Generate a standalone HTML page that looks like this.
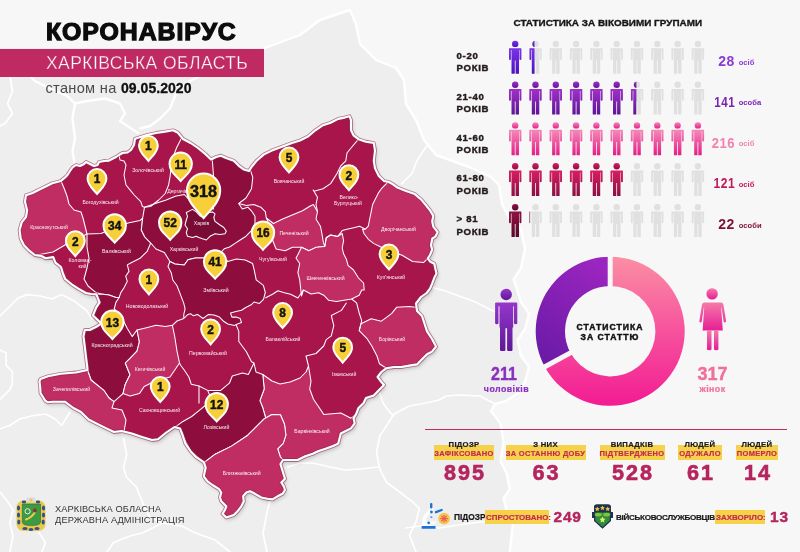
<!DOCTYPE html>
<html><head><meta charset="utf-8"><style>
*{margin:0;padding:0;box-sizing:border-box}
html,body{width:800px;height:552px;overflow:hidden;background:#eeeeee}
body{position:relative;font-family:"Liberation Sans",Arial,sans-serif}
.abs{position:absolute}
.pn{font-family:"Liberation Sans",Arial,sans-serif;font-weight:700;fill:#141414;stroke:#141414;stroke-width:0.45px}
.dl{font-family:"Liberation Sans",Arial,sans-serif;font-size:5.2px;fill:#fff;text-anchor:middle;opacity:.92}
#title{position:absolute;left:45.5px;top:17px;font-size:24px;font-weight:700;color:#0c0c0c;letter-spacing:0.9px;-webkit-text-stroke:1.25px #0c0c0c;line-height:30px;white-space:nowrap;transform:scaleX(1.035);transform-origin:0 0}
#band{position:absolute;left:0;top:49px;width:264px;height:27.5px;background:#c02a63}
#band span{position:absolute;left:46px;top:4px;font-size:17.5px;color:#fff;letter-spacing:0.45px;-webkit-text-stroke:0.35px #c02a63;white-space:nowrap;line-height:20px}
#date{position:absolute;left:45.5px;top:80px;font-size:14.6px;color:#4a4a4a;letter-spacing:0.3px;white-space:nowrap;line-height:16px}
#date b{color:#111;letter-spacing:0.05px;font-size:14px;-webkit-text-stroke:0.3px #111}
#agehdr{position:absolute;left:513.5px;top:17.3px;font-size:9.9px;font-weight:700;color:#161616;white-space:nowrap;line-height:12px;letter-spacing:0.03px;-webkit-text-stroke:0.35px #161616}
.agel{position:absolute;left:456.5px;font-size:9.6px;font-weight:700;color:#231a1a;line-height:12.3px;letter-spacing:0.7px;white-space:nowrap;-webkit-text-stroke:0.4px #231a1a}
.agen{position:absolute;right:65px;font-size:14px;font-weight:700;line-height:16px;white-space:nowrap;letter-spacing:0.6px}
.ageu{position:absolute;left:738.8px;font-size:7.6px;font-weight:700;line-height:16px;white-space:nowrap;padding-top:1.5px}

.ctr{position:absolute;text-align:center;white-space:nowrap}
#dtxt{left:560px;top:321.5px;width:100px;font-size:8.6px;font-weight:700;color:#111;line-height:10.5px;letter-spacing:1.0px;-webkit-text-stroke:0.45px #111}
.gnum{font-size:18px;font-weight:700;line-height:18px;-webkit-text-stroke:0.4px currentColor}
.glab{font-size:8.8px;font-weight:700;line-height:10px;letter-spacing:0.45px;-webkit-text-stroke:0.2px currentColor}
#hline{position:absolute;left:425px;top:428.5px;width:362px;height:1.5px;background:#bf2c63}
.sh{font-size:7.7px;font-weight:700;color:#1a1a1a;line-height:8px;letter-spacing:0.3px;-webkit-text-stroke:0.2px #1a1a1a}
.sb{position:absolute;background:#f6d24a;height:14.2px;top:445.4px}
.sbt{font-size:7.5px;font-weight:700;color:#c42a56;line-height:8px;letter-spacing:0.35px;-webkit-text-stroke:0.2px #c42a56}
.sn{font-size:21.6px;font-weight:700;color:#b5245e;line-height:20px;letter-spacing:2px;-webkit-text-stroke:0.6px #b5245e}
.bt{position:absolute;font-size:8.4px;font-weight:700;color:#161616;line-height:9px;white-space:nowrap;-webkit-text-stroke:0.2px #161616}
.by{position:absolute;background:#f6d24a;top:509.5px;height:14.5px}
.byt{position:absolute;font-size:7.9px;font-weight:700;color:#c42a56;line-height:9px;white-space:nowrap;letter-spacing:0.05px;-webkit-text-stroke:0.2px #c42a56}
.bn{position:absolute;font-size:15.5px;font-weight:700;color:#b5245e;line-height:15px;white-space:nowrap;letter-spacing:0.8px;-webkit-text-stroke:0.4px #b5245e}
#org{position:absolute;left:55px;top:503.8px;font-size:9.25px;color:#333;line-height:10.9px;white-space:nowrap;letter-spacing:0.12px}
</style></head><body>

<svg class="abs" style="left:0;top:0" width="800" height="552" viewBox="0 0 800 552">
<polygon points="0,0 800,0 800,552 509.8,552 513,523.3 506.7,510.8 503.6,498.4 509.8,489 506.7,473.5 500.5,461 503.6,442.3 500.5,423.6 491,411 495,404 506,401 517.5,393.5 525,382 529,367 521,355.5 517.5,340 525,329 529,313.6 521,302 517.5,290.8 513.6,279.4 521,268 525,249 521,230 510,220 502,204 499,185 491,177 474,169 461,164 436,155 424,140 416,120 406,104 404,80 396,68 376,60 360,44 356,24 350,10 320,20 300,35 265,48 0,48" fill="#f7f7f7"/>
<g fill="none" stroke="#fff" stroke-width="2.4" stroke-linejoin="round" stroke-linecap="round">
<polyline points="265,48 300,35 320,20 350,10 356,24 360,44 376,60 396,68 404,80 406,104 416,120 424,140 436,155 461,164 474,169 491,177 499,185 502,204 510,220 521,230 525,249 521,268 513.6,279.4 517.5,290.8 521,302 529,313.6 525,329 517.5,340 521,355.5 529,367 525,382 517.5,393.5 506,401 495,404 491,411 500.5,423.6 503.6,442.3 500.5,461 506.7,473.5 509.8,489 503.6,498.4 506.7,510.8 513,523.3 509.8,552"/>
<polyline points="30,76 35,81 50,88.5 67.5,96 75,103.5 72.5,118.5 75,138.5 72.5,151 75,166 70,176"/>
<polyline points="75,103.5 87.5,101 105,98.5 120,103.5 125,113.5 120,121 127.5,126 138,133"/>
<polyline points="140,128.5 150,126 160,118.5 170,108.5 175,96 180,88.5 190,81 200,76"/>
</g>
<g fill="none" stroke="#fff" stroke-width="1.7" stroke-linejoin="round" stroke-linecap="round">
<polyline points="10,76 12.5,91 7.5,103.5 12.5,113.5 5,123.5 0,126"/>
<polyline points="0,316 9.2,307 18.5,297.7 27.7,294.6 40,296 52.3,299 61.5,294.6 73.8,300.8 86,310 92.3,319"/>
<polyline points="0,350 6.2,353 6.2,365.4 12.3,371.5 12.3,383.8 9.8,389.7 0,399.5"/>
<polyline points="0,428.8 9.8,425.5 19.5,419 32.5,415.7 45.5,414 55.2,419 61.7,425.5 70,412"/>
<polyline points="123.5,438.5 126.7,454.7 123.5,467.7 126.7,477.5 136.5,487.2 143,503.5 149.5,516.5 162.5,523 182,526.2 195,532.7 215,540 230,552"/>
<polyline points="107,552 113.7,542.5 130,536 143,532.7 162.5,523"/>
<polyline points="0,492 6.5,500 13,510 9.8,523 13,536 9.8,552"/>
<polyline points="39,532.7 45.5,542.5 42,552"/>
<polyline points="271.3,496 267,512.5 263,533 267,552"/>
<polyline points="287.8,467 300,463 312.5,463 330,467 345,470 360,469 378.5,467"/>
<polyline points="379.8,393 383,403 389.7,412 393,415.5 396,413 409.5,406 426,403 439,400 446,396 459,395 480,396 495,404"/>
<polyline points="393,415.5 386.4,426 379.8,436 376.5,452.5 379.8,469 386.4,482.2 399.6,492 412.8,502 419.4,508.6 416,521.8 409.5,535 416,552"/>
<polyline points="406,528 426,525 439,528 459,525 480,522 503,520"/>
<polyline points="430,287 445,290.8 460.4,296.5 475.6,302 490.8,310 517.5,320"/>
<polyline points="427,145.5 422,153 417,160.8 412,173.5 401.7,183.6"/>
</g>
</svg>
<svg class="abs" style="left:0;top:0" width="800" height="552" viewBox="0 0 800 552">
<defs><clipPath id="ob"><polygon points="25.0,201.7 26.0,195.2 32.6,193.0 39.0,189.8 45.7,186.5 52.2,183.3 60.9,181.0 65.0,177.5 67.5,175.0 70.0,171.0 72.5,167.5 76.0,165.0 80.0,166.0 84.0,164.0 86.0,162.0 90.0,164.0 94.0,166.0 97.5,165.0 99.0,162.0 104.0,161.0 109.0,160.6 112.5,158.8 116.0,157.0 119.0,155.0 122.5,153.0 127.5,152.5 131.0,150.0 134.0,145.0 135.0,138.8 139.0,137.5 147.0,135.0 156.0,133.0 165.0,131.6 173.0,130.3 178.0,132.8 183.0,139.0 190.6,143.0 198.0,148.0 205.8,154.4 211.0,159.5 216.0,157.0 221.0,155.7 226.0,158.0 233.8,160.8 238.8,165.8 244.0,169.6 249.0,171.0 251.5,167.0 256.6,160.8 264.0,154.4 271.8,150.6 282.0,146.8 292.0,143.0 300.0,140.5 307.8,136.6 315.4,130.3 323.0,125.2 330.6,122.7 338.2,118.9 344.6,117.6 349.6,116.3 351.0,120.2 351.0,130.3 353.5,135.4 358.5,139.2 366.0,141.7 373.8,143.0 375.0,150.6 373.8,160.8 375.0,168.4 378.8,176.0 384.0,181.0 388.7,182.0 393.0,184.3 397.4,187.6 406.0,190.9 414.8,194.1 421.3,199.6 425.7,205.0 430.0,210.4 433.3,215.9 432.2,221.3 433.3,226.7 437.6,232.2 435.4,236.5 432.2,238.7 431.0,245.2 432.2,249.6 430.0,255.0 427.8,258.3 430.0,261.5 434.3,263.7 435.4,269.0 436.5,273.5 434.3,277.8 432.2,283.3 430.0,288.7 426.7,293.0 421.0,297.0 416.0,303.5 417.0,311.0 422.0,316.0 424.5,323.8 427.0,331.4 432.0,339.0 436.0,346.6 432.0,351.7 427.0,354.2 422.0,359.3 417.0,364.4 409.3,365.6 401.7,367.0 394.0,367.0 386.4,368.2 381.4,372.0 377.6,377.0 381.4,382.0 384.0,385.0 378.8,390.3 373.8,395.4 366.0,398.0 363.6,403.0 358.5,408.0 356.0,414.4 353.5,418.2 354.7,423.3 351.0,428.4 345.8,431.0 340.8,433.5 339.5,438.5 338.2,443.6 333.0,446.0 325.5,448.7 318.0,451.2 312.8,453.8 305.2,456.3 297.6,460.0 291.0,460.0 283.0,460.0 280.4,464.0 283.8,475.0 285.0,478.8 281.3,482.5 283.8,486.3 285.0,490.0 282.5,493.8 277.5,496.3 272.5,499.4 267.5,498.8 261.3,497.5 255.0,493.8 250.0,491.3 246.3,492.5 243.1,496.3 243.8,501.3 241.3,506.3 237.5,511.3 233.8,515.0 230.0,516.3 226.3,517.5 222.5,513.8 225.0,510.0 226.3,506.3 221.3,501.3 220.0,497.5 221.3,492.5 218.8,488.8 212.5,485.0 207.5,481.3 203.8,476.3 205.7,467.8 204.0,462.4 196.0,457.0 190.8,451.5 185.3,443.4 182.6,435.0 180.0,428.4 174.5,427.0 166.3,432.5 158.0,439.3 152.0,440.0 142.0,437.0 131.8,433.5 121.6,431.0 114.0,432.0 109.0,429.6 98.8,424.6 88.6,419.5 81.0,412.0 73.4,408.0 64.8,401.7 52.8,401.7 47.9,402.3 45.2,400.6 42.5,396.3 40.5,393.0 40.3,388.0 39.5,381.4 40.4,379.0 48.0,376.3 60.7,373.8 76.0,372.5 87.5,370.0 87.3,367.0 86.0,356.8 84.8,346.6 83.5,336.4 84.8,330.0 89.8,330.0 96.3,326.8 101.2,323.6 98.0,320.3 93.0,315.4 96.3,307.3 99.6,302.4 96.3,294.2 91.3,294.0 85.9,293.0 78.3,288.7 71.7,284.3 65.2,279.0 63.0,273.5 61.0,267.0 55.4,262.6 53.3,257.0 45.7,258.3 41.3,256.0 34.8,255.0 29.3,250.7 24.0,245.2 20.7,238.7 19.6,230.0 21.7,222.4 26.0,217.0 27.2,210.4"/></clipPath>
<filter id="sh" x="-10%" y="-10%" width="120%" height="120%"><feGaussianBlur stdDeviation="2.2"/></filter></defs>
<polygon points="25.0,201.7 26.0,195.2 32.6,193.0 39.0,189.8 45.7,186.5 52.2,183.3 60.9,181.0 65.0,177.5 67.5,175.0 70.0,171.0 72.5,167.5 76.0,165.0 80.0,166.0 84.0,164.0 86.0,162.0 90.0,164.0 94.0,166.0 97.5,165.0 99.0,162.0 104.0,161.0 109.0,160.6 112.5,158.8 116.0,157.0 119.0,155.0 122.5,153.0 127.5,152.5 131.0,150.0 134.0,145.0 135.0,138.8 139.0,137.5 147.0,135.0 156.0,133.0 165.0,131.6 173.0,130.3 178.0,132.8 183.0,139.0 190.6,143.0 198.0,148.0 205.8,154.4 211.0,159.5 216.0,157.0 221.0,155.7 226.0,158.0 233.8,160.8 238.8,165.8 244.0,169.6 249.0,171.0 251.5,167.0 256.6,160.8 264.0,154.4 271.8,150.6 282.0,146.8 292.0,143.0 300.0,140.5 307.8,136.6 315.4,130.3 323.0,125.2 330.6,122.7 338.2,118.9 344.6,117.6 349.6,116.3 351.0,120.2 351.0,130.3 353.5,135.4 358.5,139.2 366.0,141.7 373.8,143.0 375.0,150.6 373.8,160.8 375.0,168.4 378.8,176.0 384.0,181.0 388.7,182.0 393.0,184.3 397.4,187.6 406.0,190.9 414.8,194.1 421.3,199.6 425.7,205.0 430.0,210.4 433.3,215.9 432.2,221.3 433.3,226.7 437.6,232.2 435.4,236.5 432.2,238.7 431.0,245.2 432.2,249.6 430.0,255.0 427.8,258.3 430.0,261.5 434.3,263.7 435.4,269.0 436.5,273.5 434.3,277.8 432.2,283.3 430.0,288.7 426.7,293.0 421.0,297.0 416.0,303.5 417.0,311.0 422.0,316.0 424.5,323.8 427.0,331.4 432.0,339.0 436.0,346.6 432.0,351.7 427.0,354.2 422.0,359.3 417.0,364.4 409.3,365.6 401.7,367.0 394.0,367.0 386.4,368.2 381.4,372.0 377.6,377.0 381.4,382.0 384.0,385.0 378.8,390.3 373.8,395.4 366.0,398.0 363.6,403.0 358.5,408.0 356.0,414.4 353.5,418.2 354.7,423.3 351.0,428.4 345.8,431.0 340.8,433.5 339.5,438.5 338.2,443.6 333.0,446.0 325.5,448.7 318.0,451.2 312.8,453.8 305.2,456.3 297.6,460.0 291.0,460.0 283.0,460.0 280.4,464.0 283.8,475.0 285.0,478.8 281.3,482.5 283.8,486.3 285.0,490.0 282.5,493.8 277.5,496.3 272.5,499.4 267.5,498.8 261.3,497.5 255.0,493.8 250.0,491.3 246.3,492.5 243.1,496.3 243.8,501.3 241.3,506.3 237.5,511.3 233.8,515.0 230.0,516.3 226.3,517.5 222.5,513.8 225.0,510.0 226.3,506.3 221.3,501.3 220.0,497.5 221.3,492.5 218.8,488.8 212.5,485.0 207.5,481.3 203.8,476.3 205.7,467.8 204.0,462.4 196.0,457.0 190.8,451.5 185.3,443.4 182.6,435.0 180.0,428.4 174.5,427.0 166.3,432.5 158.0,439.3 152.0,440.0 142.0,437.0 131.8,433.5 121.6,431.0 114.0,432.0 109.0,429.6 98.8,424.6 88.6,419.5 81.0,412.0 73.4,408.0 64.8,401.7 52.8,401.7 47.9,402.3 45.2,400.6 42.5,396.3 40.5,393.0 40.3,388.0 39.5,381.4 40.4,379.0 48.0,376.3 60.7,373.8 76.0,372.5 87.5,370.0 87.3,367.0 86.0,356.8 84.8,346.6 83.5,336.4 84.8,330.0 89.8,330.0 96.3,326.8 101.2,323.6 98.0,320.3 93.0,315.4 96.3,307.3 99.6,302.4 96.3,294.2 91.3,294.0 85.9,293.0 78.3,288.7 71.7,284.3 65.2,279.0 63.0,273.5 61.0,267.0 55.4,262.6 53.3,257.0 45.7,258.3 41.3,256.0 34.8,255.0 29.3,250.7 24.0,245.2 20.7,238.7 19.6,230.0 21.7,222.4 26.0,217.0 27.2,210.4" fill="#000" opacity="0.22" transform="translate(1.5,2.5)" filter="url(#sh)"/>
<polygon points="25.0,201.7 26.0,195.2 32.6,193.0 39.0,189.8 45.7,186.5 52.2,183.3 60.9,181.0 65.0,177.5 67.5,175.0 70.0,171.0 72.5,167.5 76.0,165.0 80.0,166.0 84.0,164.0 86.0,162.0 90.0,164.0 94.0,166.0 97.5,165.0 99.0,162.0 104.0,161.0 109.0,160.6 112.5,158.8 116.0,157.0 119.0,155.0 122.5,153.0 127.5,152.5 131.0,150.0 134.0,145.0 135.0,138.8 139.0,137.5 147.0,135.0 156.0,133.0 165.0,131.6 173.0,130.3 178.0,132.8 183.0,139.0 190.6,143.0 198.0,148.0 205.8,154.4 211.0,159.5 216.0,157.0 221.0,155.7 226.0,158.0 233.8,160.8 238.8,165.8 244.0,169.6 249.0,171.0 251.5,167.0 256.6,160.8 264.0,154.4 271.8,150.6 282.0,146.8 292.0,143.0 300.0,140.5 307.8,136.6 315.4,130.3 323.0,125.2 330.6,122.7 338.2,118.9 344.6,117.6 349.6,116.3 351.0,120.2 351.0,130.3 353.5,135.4 358.5,139.2 366.0,141.7 373.8,143.0 375.0,150.6 373.8,160.8 375.0,168.4 378.8,176.0 384.0,181.0 388.7,182.0 393.0,184.3 397.4,187.6 406.0,190.9 414.8,194.1 421.3,199.6 425.7,205.0 430.0,210.4 433.3,215.9 432.2,221.3 433.3,226.7 437.6,232.2 435.4,236.5 432.2,238.7 431.0,245.2 432.2,249.6 430.0,255.0 427.8,258.3 430.0,261.5 434.3,263.7 435.4,269.0 436.5,273.5 434.3,277.8 432.2,283.3 430.0,288.7 426.7,293.0 421.0,297.0 416.0,303.5 417.0,311.0 422.0,316.0 424.5,323.8 427.0,331.4 432.0,339.0 436.0,346.6 432.0,351.7 427.0,354.2 422.0,359.3 417.0,364.4 409.3,365.6 401.7,367.0 394.0,367.0 386.4,368.2 381.4,372.0 377.6,377.0 381.4,382.0 384.0,385.0 378.8,390.3 373.8,395.4 366.0,398.0 363.6,403.0 358.5,408.0 356.0,414.4 353.5,418.2 354.7,423.3 351.0,428.4 345.8,431.0 340.8,433.5 339.5,438.5 338.2,443.6 333.0,446.0 325.5,448.7 318.0,451.2 312.8,453.8 305.2,456.3 297.6,460.0 291.0,460.0 283.0,460.0 280.4,464.0 283.8,475.0 285.0,478.8 281.3,482.5 283.8,486.3 285.0,490.0 282.5,493.8 277.5,496.3 272.5,499.4 267.5,498.8 261.3,497.5 255.0,493.8 250.0,491.3 246.3,492.5 243.1,496.3 243.8,501.3 241.3,506.3 237.5,511.3 233.8,515.0 230.0,516.3 226.3,517.5 222.5,513.8 225.0,510.0 226.3,506.3 221.3,501.3 220.0,497.5 221.3,492.5 218.8,488.8 212.5,485.0 207.5,481.3 203.8,476.3 205.7,467.8 204.0,462.4 196.0,457.0 190.8,451.5 185.3,443.4 182.6,435.0 180.0,428.4 174.5,427.0 166.3,432.5 158.0,439.3 152.0,440.0 142.0,437.0 131.8,433.5 121.6,431.0 114.0,432.0 109.0,429.6 98.8,424.6 88.6,419.5 81.0,412.0 73.4,408.0 64.8,401.7 52.8,401.7 47.9,402.3 45.2,400.6 42.5,396.3 40.5,393.0 40.3,388.0 39.5,381.4 40.4,379.0 48.0,376.3 60.7,373.8 76.0,372.5 87.5,370.0 87.3,367.0 86.0,356.8 84.8,346.6 83.5,336.4 84.8,330.0 89.8,330.0 96.3,326.8 101.2,323.6 98.0,320.3 93.0,315.4 96.3,307.3 99.6,302.4 96.3,294.2 91.3,294.0 85.9,293.0 78.3,288.7 71.7,284.3 65.2,279.0 63.0,273.5 61.0,267.0 55.4,262.6 53.3,257.0 45.7,258.3 41.3,256.0 34.8,255.0 29.3,250.7 24.0,245.2 20.7,238.7 19.6,230.0 21.7,222.4 26.0,217.0 27.2,210.4" fill="#a8154a"/>
<g clip-path="url(#ob)" stroke="#fff" stroke-width="1.05" stroke-linejoin="round">
<polygon points="0.0,170.0 61.0,181.0 64.0,188.0 67.0,196.0 69.0,204.0 74.0,210.0 81.0,212.0 83.0,218.0 85.0,226.0 87.0,234.0 75.0,240.0 65.0,245.0 53.0,252.0 0.0,262.0" fill="#bf2d62"/>
<polygon points="87.0,234.0 101.0,233.6 114.0,228.0 128.0,223.0 140.0,220.6 142.7,218.0 141.3,230.0 144.8,237.0 150.7,243.0 147.2,251.3 140.0,258.3 130.7,263.0 127.3,264.9 129.0,271.4 125.7,276.3 127.3,281.2 124.0,287.7 120.8,292.6 119.1,297.5 116.0,297.5 109.0,295.0 101.0,294.0 96.0,292.6 88.0,286.0 84.0,279.0 87.0,268.0 89.0,258.0 87.0,247.0" fill="#8d0e3d"/>
<polygon points="96.3,294.2 101.0,294.0 109.0,295.0 116.0,297.5 119.1,297.5 115.9,302.4 114.2,309.0 117.5,312.2 122.4,318.7 127.3,328.5 132.2,336.6 137.0,330.0 139.4,341.8 137.0,351.2 130.0,358.3 125.3,363.0 130.0,374.8 125.3,384.2 123.0,393.6 114.0,401.7 109.0,398.0 103.8,390.3 91.0,380.0 87.5,370.0 60.0,360.0 60.0,300.0" fill="#8d0e3d"/>
<polygon points="30.0,362.0 87.5,370.0 91.0,380.0 103.8,390.3 109.0,398.0 114.0,401.7 112.0,408.0 122.0,410.0 126.0,420.0 124.0,432.0 124.0,450.0 30.0,450.0" fill="#bf2d62"/>
<polygon points="137.0,330.0 146.5,327.7 156.0,325.3 165.3,326.5 172.4,325.3 174.8,337.0 177.0,351.2 179.5,363.0 174.8,370.0 170.0,377.0 160.6,379.5 151.2,383.0 144.2,386.5 139.4,393.6 130.0,396.0 123.0,393.6 125.3,384.2 130.0,374.8 125.3,363.0 130.0,358.3 137.0,351.2 139.4,341.8" fill="#bf2d62"/>
<polygon points="142.7,218.0 144.5,207.2 155.4,203.5 166.2,200.0 175.3,196.3 184.3,194.5 192.0,203.0 213.5,209.0 212.2,193.8 213.5,176.0 212.2,158.2 216.0,150.0 221.0,150.0 226.0,152.0 233.8,155.0 238.8,160.0 244.0,165.0 249.0,166.0 252.8,177.3 251.5,188.7 246.0,198.0 238.7,203.5 242.3,209.0 247.8,207.2 251.4,210.8 255.0,216.2 255.0,223.5 251.4,230.7 246.0,236.2 240.5,239.8 235.0,243.4 229.6,247.0 224.2,248.8 220.6,252.5 215.0,257.0 202.5,257.9 195.2,257.9 188.0,259.7 184.3,265.0 175.0,264.0 169.9,261.5 164.4,252.5 156.0,249.0 150.7,243.0 144.8,237.0 141.3,230.0" fill="#8d0e3d"/>
<polygon points="169.9,261.5 175.0,264.0 184.3,265.0 188.0,259.7 195.2,257.9 202.5,257.9 215.0,257.0 220.6,252.5 224.0,258.0 227.8,261.5 236.3,259.0 245.3,260.0 252.6,263.5 254.4,270.8 256.2,279.8 263.4,285.3 265.3,292.5 263.5,299.3 259.4,303.4 253.9,302.0 251.2,304.8 245.7,307.5 241.5,310.3 236.0,311.6 230.5,313.0 231.9,317.1 236.0,317.1 240.2,318.5 241.5,322.6 237.4,324.0 234.6,325.4 227.8,324.0 223.6,321.3 219.5,317.1 214.0,315.0 208.5,314.4 203.0,318.5 197.5,314.4 193.4,315.8 190.6,313.7 187.9,314.4 183.8,318.5 183.8,314.4 185.1,308.9 183.8,303.4 179.6,292.4 176.9,285.5 172.8,280.0 171.3,273.0 168.0,266.5" fill="#8d0e3d"/>
<polygon points="186.3,212.5 190.0,210.6 192.5,209.4 196.3,211.9 200.0,216.0 203.0,217.0 208.8,212.5 212.5,211.9 215.0,213.8 213.8,217.5 215.0,221.3 220.0,225.0 223.8,227.5 226.3,231.3 225.0,233.8 220.0,234.4 215.0,233.8 210.0,236.3 206.3,240.0 202.5,238.8 198.8,237.5 196.3,236.3 192.5,237.5 187.5,236.3 186.3,232.5 187.5,228.8 185.0,225.0 186.3,220.0 187.5,216.3" fill="#780c35"/>
<polygon points="266.3,218.0 273.5,223.5 282.6,219.0 291.6,215.3 302.5,210.8 309.8,206.3 313.4,204.5 317.5,211.7 316.0,219.0 320.4,226.2 321.9,233.5 323.3,242.2 324.8,246.5 318.8,247.0 308.8,250.8 301.5,247.2 292.4,247.2 285.2,250.8 276.1,249.0 272.5,240.0 273.5,234.4" fill="#bf2d62"/>
<polygon points="297.6,255.2 301.5,247.2 308.8,250.8 316.0,247.2 324.8,246.5 326.2,237.8 330.6,235.0 337.8,236.4 342.2,233.5 343.6,240.7 342.2,248.0 343.6,253.8 346.5,259.6 348.0,265.4 353.5,270.0 358.5,278.0 363.6,283.0 364.2,290.0 361.7,290.0 359.2,295.2 351.6,299.0 344.0,300.3 336.3,301.6 328.7,300.3 323.7,295.2 318.6,292.7 311.0,294.0 303.4,290.0 301.5,296.0 299.7,279.8 297.9,272.6 299.7,263.5 296.0,258.0" fill="#bf2d62"/>
<polygon points="386.4,183.6 400.0,170.0 460.0,200.0 460.0,270.0 427.8,258.3 423.5,262.6 412.6,261.5 401.7,255.0 389.0,252.0 379.9,246.5 374.0,243.6 368.3,239.3 364.0,233.5 362.5,229.1 365.4,229.1 368.3,226.2 369.7,219.0 371.2,211.7 372.6,204.5 375.5,198.7 378.4,192.9 381.4,188.7" fill="#bf2d62"/>
<polygon points="361.0,323.8 371.2,318.7 381.4,321.2 391.5,313.6 396.6,307.3 409.3,306.5 415.6,307.3 440.0,300.0 450.0,360.0 427.0,354.2 417.0,364.4 386.4,368.2 379.4,363.7 377.0,356.0 371.8,346.0 366.8,338.3 359.2,330.7" fill="#bf2d62"/>
<polygon points="262.8,374.5 272.0,381.0 280.0,384.0 290.0,382.0 300.0,378.0 306.0,372.0 308.5,366.0 311.0,381.4 309.7,389.0 313.5,399.2 318.6,406.8 323.7,414.4 340.8,413.0 351.0,418.2 356.0,414.4 370.0,440.0 300.0,475.0 283.0,460.0 280.4,457.0 277.7,448.8 283.2,443.4 285.9,435.2 284.5,424.3 280.4,414.8 272.0,414.5 264.1,418.9 265.7,418.0 262.8,407.8 259.9,400.6 264.2,389.0" fill="#bf2d62"/>
<polygon points="175.8,426.7 181.6,422.3 191.7,416.5 199.0,410.7 207.7,403.5 210.0,396.0 207.7,390.4 220.7,390.4 229.4,383.2 232.3,376.0 242.5,373.0 248.3,374.5 251.2,368.7 254.0,363.0 256.0,372.0 262.8,374.5 264.2,389.0 259.9,400.6 262.8,407.8 265.7,418.0 264.1,418.9 247.8,435.2 231.5,446.1 215.2,454.2 204.3,462.4 190.8,451.5 182.6,435.2 170.0,440.0" fill="#8d0e3d"/>
<polygon points="204.3,462.4 215.2,454.2 231.5,446.1 247.8,435.2 264.1,418.9 272.0,414.5 280.4,414.8 284.5,424.3 285.9,435.2 283.2,443.4 277.7,448.8 280.4,457.0 283.0,460.0 300.0,470.0 300.0,530.0 200.0,530.0 195.0,470.0" fill="#bf2d62"/>
<polyline points="119.0,155.0 120.0,160.0 124.0,161.0 126.0,165.0 125.0,170.0 124.0,175.0 125.0,180.0 126.0,185.0 130.2,190.2 134.2,195.0 140.8,201.6 142.4,206.5 144.5,207.2" fill="none"/>
<polyline points="181.5,138.0 176.6,147.8 172.0,160.0 170.0,177.0 168.5,185.3 165.2,193.5 158.7,200.0 150.5,206.5 144.5,207.2" fill="none"/>
<polyline points="358.5,139.2 351.0,148.0 347.0,153.0 345.8,160.8 340.8,165.8 337.0,173.5 330.6,183.6 323.0,188.7 314.0,191.2 313.2,190.0 317.5,197.2 316.0,204.5 317.5,211.7" fill="none"/>
<polyline points="324.8,246.5 326.2,237.8 330.6,235.0 337.8,236.4 342.2,230.6 348.0,229.1 353.8,227.7 359.6,226.2 365.4,229.1" fill="none"/>
<polyline points="238.7,203.5 246.3,205.4 253.6,204.5 260.8,207.2 265.3,211.7 266.3,218.0" fill="none"/>
<polyline points="265.3,298.0 272.5,294.3 278.0,290.7 283.4,292.5 290.6,294.3 297.9,298.0 303.4,290.0" fill="none"/>
<polyline points="351.6,299.0 356.6,302.8 359.2,313.0 361.7,320.6 359.2,330.7" fill="none"/>
<polyline points="346.5,302.8 341.4,310.4 331.3,315.5 333.8,325.6 331.3,335.8 326.2,339.6 323.7,346.0 316.0,353.5 306.0,356.0 308.5,366.0" fill="none"/>
<polyline points="236.0,324.5 238.8,331.4 238.8,341.5 246.4,351.7 251.5,361.8 254.0,363.0" fill="none"/>
<polyline points="172.4,325.3 177.0,321.0 183.8,318.5" fill="none"/>
<polyline points="179.5,363.0 180.6,365.3 184.2,370.0 188.9,377.0 191.2,384.2 199.0,386.0 199.0,403.5" fill="none"/>
<polyline points="199.0,386.0 207.7,390.4" fill="none"/>
</g>
<polygon points="25.0,201.7 26.0,195.2 32.6,193.0 39.0,189.8 45.7,186.5 52.2,183.3 60.9,181.0 65.0,177.5 67.5,175.0 70.0,171.0 72.5,167.5 76.0,165.0 80.0,166.0 84.0,164.0 86.0,162.0 90.0,164.0 94.0,166.0 97.5,165.0 99.0,162.0 104.0,161.0 109.0,160.6 112.5,158.8 116.0,157.0 119.0,155.0 122.5,153.0 127.5,152.5 131.0,150.0 134.0,145.0 135.0,138.8 139.0,137.5 147.0,135.0 156.0,133.0 165.0,131.6 173.0,130.3 178.0,132.8 183.0,139.0 190.6,143.0 198.0,148.0 205.8,154.4 211.0,159.5 216.0,157.0 221.0,155.7 226.0,158.0 233.8,160.8 238.8,165.8 244.0,169.6 249.0,171.0 251.5,167.0 256.6,160.8 264.0,154.4 271.8,150.6 282.0,146.8 292.0,143.0 300.0,140.5 307.8,136.6 315.4,130.3 323.0,125.2 330.6,122.7 338.2,118.9 344.6,117.6 349.6,116.3 351.0,120.2 351.0,130.3 353.5,135.4 358.5,139.2 366.0,141.7 373.8,143.0 375.0,150.6 373.8,160.8 375.0,168.4 378.8,176.0 384.0,181.0 388.7,182.0 393.0,184.3 397.4,187.6 406.0,190.9 414.8,194.1 421.3,199.6 425.7,205.0 430.0,210.4 433.3,215.9 432.2,221.3 433.3,226.7 437.6,232.2 435.4,236.5 432.2,238.7 431.0,245.2 432.2,249.6 430.0,255.0 427.8,258.3 430.0,261.5 434.3,263.7 435.4,269.0 436.5,273.5 434.3,277.8 432.2,283.3 430.0,288.7 426.7,293.0 421.0,297.0 416.0,303.5 417.0,311.0 422.0,316.0 424.5,323.8 427.0,331.4 432.0,339.0 436.0,346.6 432.0,351.7 427.0,354.2 422.0,359.3 417.0,364.4 409.3,365.6 401.7,367.0 394.0,367.0 386.4,368.2 381.4,372.0 377.6,377.0 381.4,382.0 384.0,385.0 378.8,390.3 373.8,395.4 366.0,398.0 363.6,403.0 358.5,408.0 356.0,414.4 353.5,418.2 354.7,423.3 351.0,428.4 345.8,431.0 340.8,433.5 339.5,438.5 338.2,443.6 333.0,446.0 325.5,448.7 318.0,451.2 312.8,453.8 305.2,456.3 297.6,460.0 291.0,460.0 283.0,460.0 280.4,464.0 283.8,475.0 285.0,478.8 281.3,482.5 283.8,486.3 285.0,490.0 282.5,493.8 277.5,496.3 272.5,499.4 267.5,498.8 261.3,497.5 255.0,493.8 250.0,491.3 246.3,492.5 243.1,496.3 243.8,501.3 241.3,506.3 237.5,511.3 233.8,515.0 230.0,516.3 226.3,517.5 222.5,513.8 225.0,510.0 226.3,506.3 221.3,501.3 220.0,497.5 221.3,492.5 218.8,488.8 212.5,485.0 207.5,481.3 203.8,476.3 205.7,467.8 204.0,462.4 196.0,457.0 190.8,451.5 185.3,443.4 182.6,435.0 180.0,428.4 174.5,427.0 166.3,432.5 158.0,439.3 152.0,440.0 142.0,437.0 131.8,433.5 121.6,431.0 114.0,432.0 109.0,429.6 98.8,424.6 88.6,419.5 81.0,412.0 73.4,408.0 64.8,401.7 52.8,401.7 47.9,402.3 45.2,400.6 42.5,396.3 40.5,393.0 40.3,388.0 39.5,381.4 40.4,379.0 48.0,376.3 60.7,373.8 76.0,372.5 87.5,370.0 87.3,367.0 86.0,356.8 84.8,346.6 83.5,336.4 84.8,330.0 89.8,330.0 96.3,326.8 101.2,323.6 98.0,320.3 93.0,315.4 96.3,307.3 99.6,302.4 96.3,294.2 91.3,294.0 85.9,293.0 78.3,288.7 71.7,284.3 65.2,279.0 63.0,273.5 61.0,267.0 55.4,262.6 53.3,257.0 45.7,258.3 41.3,256.0 34.8,255.0 29.3,250.7 24.0,245.2 20.7,238.7 19.6,230.0 21.7,222.4 26.0,217.0 27.2,210.4" fill="none" stroke="#8a2a4a" stroke-opacity="0.6" stroke-width="3.8" stroke-linejoin="round"/>
<polygon points="25.0,201.7 26.0,195.2 32.6,193.0 39.0,189.8 45.7,186.5 52.2,183.3 60.9,181.0 65.0,177.5 67.5,175.0 70.0,171.0 72.5,167.5 76.0,165.0 80.0,166.0 84.0,164.0 86.0,162.0 90.0,164.0 94.0,166.0 97.5,165.0 99.0,162.0 104.0,161.0 109.0,160.6 112.5,158.8 116.0,157.0 119.0,155.0 122.5,153.0 127.5,152.5 131.0,150.0 134.0,145.0 135.0,138.8 139.0,137.5 147.0,135.0 156.0,133.0 165.0,131.6 173.0,130.3 178.0,132.8 183.0,139.0 190.6,143.0 198.0,148.0 205.8,154.4 211.0,159.5 216.0,157.0 221.0,155.7 226.0,158.0 233.8,160.8 238.8,165.8 244.0,169.6 249.0,171.0 251.5,167.0 256.6,160.8 264.0,154.4 271.8,150.6 282.0,146.8 292.0,143.0 300.0,140.5 307.8,136.6 315.4,130.3 323.0,125.2 330.6,122.7 338.2,118.9 344.6,117.6 349.6,116.3 351.0,120.2 351.0,130.3 353.5,135.4 358.5,139.2 366.0,141.7 373.8,143.0 375.0,150.6 373.8,160.8 375.0,168.4 378.8,176.0 384.0,181.0 388.7,182.0 393.0,184.3 397.4,187.6 406.0,190.9 414.8,194.1 421.3,199.6 425.7,205.0 430.0,210.4 433.3,215.9 432.2,221.3 433.3,226.7 437.6,232.2 435.4,236.5 432.2,238.7 431.0,245.2 432.2,249.6 430.0,255.0 427.8,258.3 430.0,261.5 434.3,263.7 435.4,269.0 436.5,273.5 434.3,277.8 432.2,283.3 430.0,288.7 426.7,293.0 421.0,297.0 416.0,303.5 417.0,311.0 422.0,316.0 424.5,323.8 427.0,331.4 432.0,339.0 436.0,346.6 432.0,351.7 427.0,354.2 422.0,359.3 417.0,364.4 409.3,365.6 401.7,367.0 394.0,367.0 386.4,368.2 381.4,372.0 377.6,377.0 381.4,382.0 384.0,385.0 378.8,390.3 373.8,395.4 366.0,398.0 363.6,403.0 358.5,408.0 356.0,414.4 353.5,418.2 354.7,423.3 351.0,428.4 345.8,431.0 340.8,433.5 339.5,438.5 338.2,443.6 333.0,446.0 325.5,448.7 318.0,451.2 312.8,453.8 305.2,456.3 297.6,460.0 291.0,460.0 283.0,460.0 280.4,464.0 283.8,475.0 285.0,478.8 281.3,482.5 283.8,486.3 285.0,490.0 282.5,493.8 277.5,496.3 272.5,499.4 267.5,498.8 261.3,497.5 255.0,493.8 250.0,491.3 246.3,492.5 243.1,496.3 243.8,501.3 241.3,506.3 237.5,511.3 233.8,515.0 230.0,516.3 226.3,517.5 222.5,513.8 225.0,510.0 226.3,506.3 221.3,501.3 220.0,497.5 221.3,492.5 218.8,488.8 212.5,485.0 207.5,481.3 203.8,476.3 205.7,467.8 204.0,462.4 196.0,457.0 190.8,451.5 185.3,443.4 182.6,435.0 180.0,428.4 174.5,427.0 166.3,432.5 158.0,439.3 152.0,440.0 142.0,437.0 131.8,433.5 121.6,431.0 114.0,432.0 109.0,429.6 98.8,424.6 88.6,419.5 81.0,412.0 73.4,408.0 64.8,401.7 52.8,401.7 47.9,402.3 45.2,400.6 42.5,396.3 40.5,393.0 40.3,388.0 39.5,381.4 40.4,379.0 48.0,376.3 60.7,373.8 76.0,372.5 87.5,370.0 87.3,367.0 86.0,356.8 84.8,346.6 83.5,336.4 84.8,330.0 89.8,330.0 96.3,326.8 101.2,323.6 98.0,320.3 93.0,315.4 96.3,307.3 99.6,302.4 96.3,294.2 91.3,294.0 85.9,293.0 78.3,288.7 71.7,284.3 65.2,279.0 63.0,273.5 61.0,267.0 55.4,262.6 53.3,257.0 45.7,258.3 41.3,256.0 34.8,255.0 29.3,250.7 24.0,245.2 20.7,238.7 19.6,230.0 21.7,222.4 26.0,217.0 27.2,210.4" fill="none" stroke="#fff" stroke-width="2.1" stroke-linejoin="round"/>
<text x="49" y="229.20000000000002" class="dl">Краснокутський</text>
<text x="100.6" y="203.8" class="dl">Богодухівський</text>
<text x="148" y="171.8" class="dl">Золочівський</text>
<text x="184" y="192.8" class="dl">Дергачівський</text>
<text x="201.5" y="225.3" class="dl">Харків</text>
<text x="184" y="250.8" class="dl">Харківський</text>
<text x="116.5" y="253.10000000000002" class="dl">Валківський</text>
<text x="80" y="262.0" class="dl">Коломац-</text>
<text x="82.5" y="268.40000000000003" class="dl">кий</text>
<text x="147" y="307.5" class="dl">Нововодолазький</text>
<text x="112" y="347.40000000000003" class="dl">Красноградський</text>
<text x="150" y="370.8" class="dl">Кегичівський</text>
<text x="159.5" y="411.8" class="dl">Сахновщинський</text>
<text x="208" y="355.40000000000003" class="dl">Первомайський</text>
<text x="216" y="291.8" class="dl">Зміївський</text>
<text x="273" y="260.8" class="dl">Чугуївський</text>
<text x="294" y="234.8" class="dl">Печенізький</text>
<text x="325.5" y="279.8" class="dl">Шевченківський</text>
<text x="391" y="279.40000000000003" class="dl">Куп'янський</text>
<text x="392" y="341.3" class="dl">Борівський</text>
<text x="344" y="376.3" class="dl">Ізюмський</text>
<text x="283" y="340.8" class="dl">Балаклійський</text>
<text x="289" y="182.8" class="dl">Вовчанський</text>
<text x="349" y="199.4" class="dl">Велико-</text>
<text x="348" y="205.20000000000002" class="dl">Бурлуцький</text>
<text x="398.5" y="231.10000000000002" class="dl">Дворічанський</text>
<text x="71.5" y="390.8" class="dl">Зачепилівський</text>
<text x="216.5" y="428.8" class="dl">Лозівський</text>
<text x="241.7" y="474.5" class="dl">Близнюківський</text>
<text x="312" y="432.8" class="dl">Барвінківський</text>
<path d="M148.40,160.80 C144.45,155.87 139.00,152.17 139.00,145.40 A9.4,9.4 0 0 1 157.80,145.40 C157.80,152.17 152.35,155.87 148.40,160.80 Z" fill="#f7cf38" stroke="#fff" stroke-width="2"/><text x="148.4" y="150.2" font-size="11.9" text-anchor="middle" class="pn">1</text>
<path d="M180.70,181.00 C176.00,175.50 169.50,171.86 169.50,163.80 A11.2,11.2 0 0 1 191.90,163.80 C191.90,171.86 185.40,175.50 180.70,181.00 Z" fill="#f7cf38" stroke="#fff" stroke-width="2"/><text x="180.7" y="168.6" font-size="11.9" text-anchor="middle" class="pn">11</text>
<path d="M203.60,218.20 C196.63,209.24 187.00,202.15 187.00,190.20 A16.6,16.6 0 0 1 220.20,190.20 C220.20,202.15 210.57,209.24 203.60,218.20 Z" fill="#f7cf38" stroke="#fff" stroke-width="2"/><text x="203.6" y="196.7" font-size="16.2" text-anchor="middle" class="pn">318</text>
<path d="M289.00,172.40 C285.05,167.47 279.60,163.77 279.60,157.00 A9.4,9.4 0 0 1 298.40,157.00 C298.40,163.77 292.95,167.47 289.00,172.40 Z" fill="#f7cf38" stroke="#fff" stroke-width="2"/><text x="289.0" y="161.8" font-size="11.9" text-anchor="middle" class="pn">5</text>
<path d="M348.90,190.10 C344.95,185.17 339.50,181.47 339.50,174.70 A9.4,9.4 0 0 1 358.30,174.70 C358.30,181.47 352.85,185.17 348.90,190.10 Z" fill="#f7cf38" stroke="#fff" stroke-width="2"/><text x="348.9" y="179.5" font-size="11.9" text-anchor="middle" class="pn">2</text>
<path d="M97.00,193.90 C93.05,188.97 87.60,185.27 87.60,178.50 A9.4,9.4 0 0 1 106.40,178.50 C106.40,185.27 100.95,188.97 97.00,193.90 Z" fill="#f7cf38" stroke="#fff" stroke-width="2"/><text x="97.0" y="183.3" font-size="11.9" text-anchor="middle" class="pn">1</text>
<path d="M114.70,242.60 C110.00,237.10 103.50,233.46 103.50,225.40 A11.2,11.2 0 0 1 125.90,225.40 C125.90,233.46 119.40,237.10 114.70,242.60 Z" fill="#f7cf38" stroke="#fff" stroke-width="2"/><text x="114.7" y="230.2" font-size="11.9" text-anchor="middle" class="pn">34</text>
<path d="M170.20,239.80 C165.50,234.30 159.00,230.66 159.00,222.60 A11.2,11.2 0 0 1 181.40,222.60 C181.40,230.66 174.90,234.30 170.20,239.80 Z" fill="#f7cf38" stroke="#fff" stroke-width="2"/><text x="170.2" y="227.4" font-size="11.9" text-anchor="middle" class="pn">52</text>
<path d="M263.00,249.80 C258.30,244.30 251.80,240.66 251.80,232.60 A11.2,11.2 0 0 1 274.20,232.60 C274.20,240.66 267.70,244.30 263.00,249.80 Z" fill="#f7cf38" stroke="#fff" stroke-width="2"/><text x="263.0" y="237.4" font-size="11.9" text-anchor="middle" class="pn">16</text>
<path d="M75.30,256.10 C71.35,251.17 65.90,247.47 65.90,240.70 A9.4,9.4 0 0 1 84.70,240.70 C84.70,247.47 79.25,251.17 75.30,256.10 Z" fill="#f7cf38" stroke="#fff" stroke-width="2"/><text x="75.3" y="245.5" font-size="11.9" text-anchor="middle" class="pn">2</text>
<path d="M215.10,278.70 C210.40,273.20 203.90,269.56 203.90,261.50 A11.2,11.2 0 0 1 226.30,261.50 C226.30,269.56 219.80,273.20 215.10,278.70 Z" fill="#f7cf38" stroke="#fff" stroke-width="2"/><text x="215.1" y="266.3" font-size="11.9" text-anchor="middle" class="pn">41</text>
<path d="M389.00,269.40 C385.05,264.47 379.60,260.77 379.60,254.00 A9.4,9.4 0 0 1 398.40,254.00 C398.40,260.77 392.95,264.47 389.00,269.40 Z" fill="#f7cf38" stroke="#fff" stroke-width="2"/><text x="389.0" y="258.8" font-size="11.9" text-anchor="middle" class="pn">3</text>
<path d="M148.90,294.30 C144.95,289.37 139.50,285.67 139.50,278.90 A9.4,9.4 0 0 1 158.30,278.90 C158.30,285.67 152.85,289.37 148.90,294.30 Z" fill="#f7cf38" stroke="#fff" stroke-width="2"/><text x="148.9" y="283.7" font-size="11.9" text-anchor="middle" class="pn">1</text>
<path d="M112.40,339.00 C107.70,333.50 101.20,329.86 101.20,321.80 A11.2,11.2 0 0 1 123.60,321.80 C123.60,329.86 117.10,333.50 112.40,339.00 Z" fill="#f7cf38" stroke="#fff" stroke-width="2"/><text x="112.4" y="326.6" font-size="11.9" text-anchor="middle" class="pn">13</text>
<path d="M210.60,344.30 C206.65,339.37 201.20,335.67 201.20,328.90 A9.4,9.4 0 0 1 220.00,328.90 C220.00,335.67 214.55,339.37 210.60,344.30 Z" fill="#f7cf38" stroke="#fff" stroke-width="2"/><text x="210.6" y="333.7" font-size="11.9" text-anchor="middle" class="pn">2</text>
<path d="M282.60,327.90 C278.65,322.97 273.20,319.27 273.20,312.50 A9.4,9.4 0 0 1 292.00,312.50 C292.00,319.27 286.55,322.97 282.60,327.90 Z" fill="#f7cf38" stroke="#fff" stroke-width="2"/><text x="282.6" y="317.3" font-size="11.9" text-anchor="middle" class="pn">8</text>
<path d="M342.70,362.60 C338.75,357.67 333.30,353.97 333.30,347.20 A9.4,9.4 0 0 1 352.10,347.20 C352.10,353.97 346.65,357.67 342.70,362.60 Z" fill="#f7cf38" stroke="#fff" stroke-width="2"/><text x="342.7" y="352.0" font-size="11.9" text-anchor="middle" class="pn">5</text>
<path d="M160.20,401.90 C156.25,396.97 150.80,393.27 150.80,386.50 A9.4,9.4 0 0 1 169.60,386.50 C169.60,393.27 164.15,396.97 160.20,401.90 Z" fill="#f7cf38" stroke="#fff" stroke-width="2"/><text x="160.2" y="391.3" font-size="11.9" text-anchor="middle" class="pn">1</text>
<path d="M216.70,421.40 C212.00,415.90 205.50,412.26 205.50,404.20 A11.2,11.2 0 0 1 227.90,404.20 C227.90,412.26 221.40,415.90 216.70,421.40 Z" fill="#f7cf38" stroke="#fff" stroke-width="2"/><text x="216.7" y="409.0" font-size="11.9" text-anchor="middle" class="pn">12</text>
</svg>
<div id="title">КОРОНАВІРУС</div>
<div id="band"><span>ХАРКІВСЬКА ОБЛАСТЬ</span></div>
<div id="date">станом на <b>09.05.2020</b></div>
<div id="agehdr">СТАТИСТИКА ЗА ВІКОВИМИ ГРУПАМИ</div>
<svg class="abs" style="left:0;top:0" width="800" height="552" viewBox="0 0 800 552"><defs>
<linearGradient id="g0" x1="0" y1="0" x2="0" y2="1"><stop offset="0" stop-color="#7a35e8"/><stop offset="1" stop-color="#4c12c0"/></linearGradient>
<symbol id="m0" viewBox="0 0 12.4 33.2" overflow="visible"><g fill="url(#g0)"><circle cx="6.2" cy="3.3" r="3.2"/><path d="M0.3,7.6 H12.1 Q12.4,7.6 12.4,8.1 V18.6 Q12.4,19.3 11.4,19.3 Q10.5,19.3 10.5,18.6 V9.5 H10 V33 Q10,33.2 9,33.2 H7.1 Q6.6,33.2 6.6,32.6 V20 H5.8 V32.6 Q5.8,33.2 5.2,33.2 H3.2 Q2.5,33.2 2.5,32.6 V9.5 H1.9 V18.6 Q1.9,19.3 1,19.3 Q0,19.3 0,18.6 V8.1 Q0,7.6 0.3,7.6 Z"/></g></symbol>
<linearGradient id="g1" x1="0" y1="0" x2="0" y2="1"><stop offset="0" stop-color="#a032c8"/><stop offset="1" stop-color="#5e1596"/></linearGradient>
<symbol id="m1" viewBox="0 0 12.4 33.2" overflow="visible"><g fill="url(#g1)"><circle cx="6.2" cy="3.3" r="3.2"/><path d="M0.3,7.6 H12.1 Q12.4,7.6 12.4,8.1 V18.6 Q12.4,19.3 11.4,19.3 Q10.5,19.3 10.5,18.6 V9.5 H10 V33 Q10,33.2 9,33.2 H7.1 Q6.6,33.2 6.6,32.6 V20 H5.8 V32.6 Q5.8,33.2 5.2,33.2 H3.2 Q2.5,33.2 2.5,32.6 V9.5 H1.9 V18.6 Q1.9,19.3 1,19.3 Q0,19.3 0,18.6 V8.1 Q0,7.6 0.3,7.6 Z"/></g></symbol>
<linearGradient id="g2" x1="0" y1="0" x2="0" y2="1"><stop offset="0" stop-color="#f58ab8"/><stop offset="1" stop-color="#e41f86"/></linearGradient>
<symbol id="m2" viewBox="0 0 12.4 33.2" overflow="visible"><g fill="url(#g2)"><circle cx="6.2" cy="3.3" r="3.2"/><path d="M0.3,7.6 H12.1 Q12.4,7.6 12.4,8.1 V18.6 Q12.4,19.3 11.4,19.3 Q10.5,19.3 10.5,18.6 V9.5 H10 V33 Q10,33.2 9,33.2 H7.1 Q6.6,33.2 6.6,32.6 V20 H5.8 V32.6 Q5.8,33.2 5.2,33.2 H3.2 Q2.5,33.2 2.5,32.6 V9.5 H1.9 V18.6 Q1.9,19.3 1,19.3 Q0,19.3 0,18.6 V8.1 Q0,7.6 0.3,7.6 Z"/></g></symbol>
<linearGradient id="g3" x1="0" y1="0" x2="0" y2="1"><stop offset="0" stop-color="#d81e62"/><stop offset="1" stop-color="#8c0f45"/></linearGradient>
<symbol id="m3" viewBox="0 0 12.4 33.2" overflow="visible"><g fill="url(#g3)"><circle cx="6.2" cy="3.3" r="3.2"/><path d="M0.3,7.6 H12.1 Q12.4,7.6 12.4,8.1 V18.6 Q12.4,19.3 11.4,19.3 Q10.5,19.3 10.5,18.6 V9.5 H10 V33 Q10,33.2 9,33.2 H7.1 Q6.6,33.2 6.6,32.6 V20 H5.8 V32.6 Q5.8,33.2 5.2,33.2 H3.2 Q2.5,33.2 2.5,32.6 V9.5 H1.9 V18.6 Q1.9,19.3 1,19.3 Q0,19.3 0,18.6 V8.1 Q0,7.6 0.3,7.6 Z"/></g></symbol>
<linearGradient id="g4" x1="0" y1="0" x2="0" y2="1"><stop offset="0" stop-color="#8e1244"/><stop offset="1" stop-color="#5a0827"/></linearGradient>
<symbol id="m4" viewBox="0 0 12.4 33.2" overflow="visible"><g fill="url(#g4)"><circle cx="6.2" cy="3.3" r="3.2"/><path d="M0.3,7.6 H12.1 Q12.4,7.6 12.4,8.1 V18.6 Q12.4,19.3 11.4,19.3 Q10.5,19.3 10.5,18.6 V9.5 H10 V33 Q10,33.2 9,33.2 H7.1 Q6.6,33.2 6.6,32.6 V20 H5.8 V32.6 Q5.8,33.2 5.2,33.2 H3.2 Q2.5,33.2 2.5,32.6 V9.5 H1.9 V18.6 Q1.9,19.3 1,19.3 Q0,19.3 0,18.6 V8.1 Q0,7.6 0.3,7.6 Z"/></g></symbol>
<symbol id="mg" viewBox="0 0 12.4 33.2" overflow="visible"><g fill="#e0e0e0"><circle cx="6.2" cy="3.3" r="3.2"/><path d="M0.3,7.6 H12.1 Q12.4,7.6 12.4,8.1 V18.6 Q12.4,19.3 11.4,19.3 Q10.5,19.3 10.5,18.6 V9.5 H10 V33 Q10,33.2 9,33.2 H7.1 Q6.6,33.2 6.6,32.6 V20 H5.8 V32.6 Q5.8,33.2 5.2,33.2 H3.2 Q2.5,33.2 2.5,32.6 V9.5 H1.9 V18.6 Q1.9,19.3 1,19.3 Q0,19.3 0,18.6 V8.1 Q0,7.6 0.3,7.6 Z"/></g></symbol>
</defs>
<use href="#m0" x="509.0" y="40.6" width="12.4" height="33.2"/>
<use href="#mg" x="529.3" y="40.6" width="12.4" height="33.2"/>
<clipPath id="c0"><rect x="529.3" y="40.6" width="5.2" height="34"/></clipPath>
<g clip-path="url(#c0)"><use href="#m0" x="529.3" y="40.6" width="12.4" height="33.2"/></g>
<use href="#mg" x="549.6" y="40.6" width="12.4" height="33.2"/>
<use href="#mg" x="569.9" y="40.6" width="12.4" height="33.2"/>
<use href="#mg" x="590.2" y="40.6" width="12.4" height="33.2"/>
<use href="#mg" x="610.5" y="40.6" width="12.4" height="33.2"/>
<use href="#mg" x="630.8" y="40.6" width="12.4" height="33.2"/>
<use href="#mg" x="651.1" y="40.6" width="12.4" height="33.2"/>
<use href="#mg" x="671.4" y="40.6" width="12.4" height="33.2"/>
<use href="#mg" x="691.7" y="40.6" width="12.4" height="33.2"/>
<use href="#m1" x="509.0" y="81.4" width="12.4" height="33.2"/>
<use href="#m1" x="529.3" y="81.4" width="12.4" height="33.2"/>
<use href="#m1" x="549.6" y="81.4" width="12.4" height="33.2"/>
<use href="#m1" x="569.9" y="81.4" width="12.4" height="33.2"/>
<use href="#m1" x="590.2" y="81.4" width="12.4" height="33.2"/>
<use href="#m1" x="610.5" y="81.4" width="12.4" height="33.2"/>
<use href="#mg" x="630.8" y="81.4" width="12.4" height="33.2"/>
<clipPath id="c1"><rect x="630.8" y="81.4" width="5.6" height="34"/></clipPath>
<g clip-path="url(#c1)"><use href="#m1" x="630.8" y="81.4" width="12.4" height="33.2"/></g>
<use href="#mg" x="651.1" y="81.4" width="12.4" height="33.2"/>
<use href="#mg" x="671.4" y="81.4" width="12.4" height="33.2"/>
<use href="#mg" x="691.7" y="81.4" width="12.4" height="33.2"/>
<use href="#m2" x="509.0" y="122.1" width="12.4" height="33.2"/>
<use href="#m2" x="529.3" y="122.1" width="12.4" height="33.2"/>
<use href="#m2" x="549.6" y="122.1" width="12.4" height="33.2"/>
<use href="#m2" x="569.9" y="122.1" width="12.4" height="33.2"/>
<use href="#m2" x="590.2" y="122.1" width="12.4" height="33.2"/>
<use href="#m2" x="610.5" y="122.1" width="12.4" height="33.2"/>
<use href="#m2" x="630.8" y="122.1" width="12.4" height="33.2"/>
<use href="#m2" x="651.1" y="122.1" width="12.4" height="33.2"/>
<use href="#m2" x="671.4" y="122.1" width="12.4" height="33.2"/>
<use href="#m2" x="691.7" y="122.1" width="12.4" height="33.2"/>
<use href="#m3" x="509.0" y="162.9" width="12.4" height="33.2"/>
<use href="#m3" x="529.3" y="162.9" width="12.4" height="33.2"/>
<use href="#m3" x="549.6" y="162.9" width="12.4" height="33.2"/>
<use href="#m3" x="569.9" y="162.9" width="12.4" height="33.2"/>
<use href="#m3" x="590.2" y="162.9" width="12.4" height="33.2"/>
<use href="#m3" x="610.5" y="162.9" width="12.4" height="33.2"/>
<use href="#mg" x="630.8" y="162.9" width="12.4" height="33.2"/>
<use href="#mg" x="651.1" y="162.9" width="12.4" height="33.2"/>
<use href="#mg" x="671.4" y="162.9" width="12.4" height="33.2"/>
<use href="#mg" x="691.7" y="162.9" width="12.4" height="33.2"/>
<use href="#m4" x="509.0" y="203.9" width="12.4" height="33.2"/>
<use href="#mg" x="529.3" y="203.9" width="12.4" height="33.2"/>
<clipPath id="c4"><rect x="529.3" y="203.9" width="0.7" height="34"/></clipPath>
<g clip-path="url(#c4)"><use href="#m4" x="529.3" y="203.9" width="12.4" height="33.2"/></g>
<use href="#mg" x="549.6" y="203.9" width="12.4" height="33.2"/>
<use href="#mg" x="569.9" y="203.9" width="12.4" height="33.2"/>
<use href="#mg" x="590.2" y="203.9" width="12.4" height="33.2"/>
<use href="#mg" x="610.5" y="203.9" width="12.4" height="33.2"/>
<use href="#mg" x="630.8" y="203.9" width="12.4" height="33.2"/>
<use href="#mg" x="651.1" y="203.9" width="12.4" height="33.2"/>
<use href="#mg" x="671.4" y="203.9" width="12.4" height="33.2"/>
<use href="#mg" x="691.7" y="203.9" width="12.4" height="33.2"/>
</svg>
<div class="agel" style="top:50.1px">0-20<br>РОКІВ</div>
<div class="agen" style="top:53.1px;color:#8b3bd6;transform:scaleX(1);transform-origin:100% 50%">28</div>
<div class="ageu" style="top:53.1px;color:#8b3bd6">осіб</div>
<div class="agel" style="top:90.9px">21-40<br>РОКІВ</div>
<div class="agen" style="top:93.9px;color:#7a22b4;transform:scaleX(0.83);transform-origin:100% 50%">141</div>
<div class="ageu" style="top:93.9px;color:#7a22b4">особа</div>
<div class="agel" style="top:131.6px">41-60<br>РОКІВ</div>
<div class="agen" style="top:134.6px;color:#f283b0;transform:scaleX(0.93);transform-origin:100% 50%">216</div>
<div class="ageu" style="top:134.6px;color:#f283b0">осіб</div>
<div class="agel" style="top:172.4px">61-80<br>РОКІВ</div>
<div class="agen" style="top:175.4px;color:#c2185b;transform:scaleX(0.86);transform-origin:100% 50%">121</div>
<div class="ageu" style="top:175.4px;color:#c2185b">осіб</div>
<div class="agel" style="top:213.4px">> 81<br>РОКІВ</div>
<div class="agen" style="top:216.4px;color:#7d1038;transform:scaleX(1);transform-origin:100% 50%">22</div>
<div class="ageu" style="top:216.4px;color:#7d1038">особи</div>

<svg class="abs" style="left:0;top:0" width="800" height="552" viewBox="0 0 800 552"><defs>
<linearGradient id="gp" x1="0" y1="0" x2="0" y2="1"><stop offset="0" stop-color="#fb8fa4"/><stop offset="0.5" stop-color="#f7529d"/><stop offset="1" stop-color="#f21c93"/></linearGradient>
<linearGradient id="gv" x1="0.7" y1="0" x2="0.2" y2="1"><stop offset="0" stop-color="#9b25bf"/><stop offset="1" stop-color="#6a1aa6"/></linearGradient>
<linearGradient id="gm" x1="0" y1="0" x2="0" y2="1"><stop offset="0" stop-color="#9636cc"/><stop offset="1" stop-color="#5f1898"/></linearGradient>
<linearGradient id="gw" x1="0" y1="0" x2="0" y2="1"><stop offset="0" stop-color="#f67aa9"/><stop offset="1" stop-color="#e61d96"/></linearGradient>
</defs>
<path d="M610.20,256.70 A74.5,74.5 0 1 1 544.73,366.75 L570.48,352.77 A45.2,45.2 0 1 0 610.20,286.00 Z" fill="url(#gp)"/>
<path d="M544.73,366.75 A74.5,74.5 0 0 1 610.20,256.70 L610.20,286.00 A45.2,45.2 0 0 0 570.48,352.77 Z" fill="url(#gv)"/>
<line x1="610.20" y1="289.00" x2="610.20" y2="253.70" stroke="#f7f7f7" stroke-width="5"/>
<line x1="573.11" y1="351.34" x2="542.09" y2="368.18" stroke="#f7f7f7" stroke-width="5"/>
<g transform="translate(495.1,288.8)" fill="url(#gm)"><circle cx="11.1" cy="5.7" r="5.7"/><path d="M1,13.7 H21.2 Q22.2,13.7 22.2,14.7 V34.3 Q22.2,35.5 20.55,35.5 Q18.9,35.5 18.9,34.3 V17.5 H18.1 V38.7 H17.4 V61 Q17.4,62.2 16.2,62.2 H13.2 Q12,62.2 12,61 V39.5 H10.3 V61 Q10.3,62.2 9.1,62.2 H6.1 Q4.9,62.2 4.9,61 V38.7 H4.4 V17.5 H3.4 V34.3 Q3.4,35.5 1.7,35.5 Q0,35.5 0,34.3 V14.7 Q0,13.7 1,13.7 Z"/></g>
<g transform="translate(699.4,288.2)" fill="url(#gw)"><circle cx="12.7" cy="5.7" r="5.7"/><path d="M5,14.3 H21.6 Q23.6,14.3 24,16.3 L26.6,32.6 Q26.8,34.2 25.4,34.2 Q24.4,34.2 24.2,33 L22.2,19.5 L21.8,19.5 L23.4,42.4 H3.2 L4.8,19.5 L4.4,19.5 L2.4,33 Q2.2,34.2 1.2,34.2 Q-0.2,34.2 0,32.6 L2.6,16.3 Q3,14.3 5,14.3 Z"/><path d="M7.6,42 H12.1 V61 Q12.1,62.1 9.85,62.1 Q7.6,62.1 7.6,61 Z M14.6,42 H19 V61 Q19,62.1 16.8,62.1 Q14.6,62.1 14.6,61 Z"/></g>
</svg>
<div class="ctr" id="dtxt">СТАТИСТИКА<br>ЗА СТАТТЮ</div>
<div class="ctr gnum" style="left:476px;top:364.5px;width:56px;color:#8b2fc0;transform:scaleX(0.89)">211</div>
<div class="ctr glab" style="left:476px;top:383.5px;width:61px;color:#8b2fc0">чоловіків</div>
<div class="ctr gnum" style="left:684.5px;top:364.5px;width:56px;color:#f06f9c">317</div>
<div class="ctr glab" style="left:684.5px;top:383.5px;width:56px;color:#f06f9c">жінок</div>
<div id="hline"></div>
<div class="sb" style="left:433.6px;width:60.7px"></div>
<div class="ctr sh" style="left:414px;top:441px;width:100px">ПІДОЗР</div>
<div class="ctr sbt" style="left:414px;top:450px;width:100px">ЗАФІКСОВАНО</div>
<div class="ctr sn" style="left:415px;top:463.3px;width:100px">895</div>
<div class="sb" style="left:506px;width:79.5px"></div>
<div class="ctr sh" style="left:495.5px;top:441px;width:100px">З НИХ</div>
<div class="ctr sbt" style="left:495.5px;top:450px;width:100px">ЗА ОСТАННЮ ДОБУ</div>
<div class="ctr sn" style="left:496.5px;top:463.3px;width:100px">63</div>
<div class="sb" style="left:599.5px;width:65.5px"></div>
<div class="ctr sh" style="left:582px;top:441px;width:100px">ВИПАДКІВ</div>
<div class="ctr sbt" style="left:582px;top:450px;width:100px">ПІДТВЕРДЖЕНО</div>
<div class="ctr sn" style="left:583px;top:463.3px;width:100px">528</div>
<div class="sb" style="left:678px;width:44.0px"></div>
<div class="ctr sh" style="left:650px;top:441px;width:100px">ЛЮДЕЙ</div>
<div class="ctr sbt" style="left:650px;top:450px;width:100px">ОДУЖАЛО</div>
<div class="ctr sn" style="left:651px;top:463.3px;width:100px">61</div>
<div class="sb" style="left:735.5px;width:42.5px"></div>
<div class="ctr sh" style="left:707px;top:441px;width:100px">ЛЮДЕЙ</div>
<div class="ctr sbt" style="left:707px;top:450px;width:100px">ПОМЕРЛО</div>
<div class="ctr sn" style="left:708px;top:463.3px;width:100px">14</div>
<div class="bt" style="left:454px;top:512.5px">ПІДОЗР</div>
<div class="by" style="left:485px;width:63.7px"></div>
<div class="byt" style="left:486px;top:512.5px">СПРОСТОВАНО:</div>
<div class="bn" style="left:553.5px;top:508.5px">249</div>
<div class="bt" style="left:616px;top:512.7px;font-size:8.1px;letter-spacing:-0.3px;z-index:2">ВІЙСЬКОВОСЛУЖБОВЦІВ</div>
<div class="by" style="left:714.5px;width:50.5px"></div>
<div class="byt" style="left:716px;top:512.5px">ЗАХВОРІЛО:</div>
<div class="bn" style="left:770px;top:509px">13</div>
<svg class="abs" style="left:416px;top:498px" width="36" height="34" viewBox="0 0 36 34">
<path d="M8,27 Q7,20 12,15 L16,11" stroke="#ffffff" stroke-width="3.2" fill="none" stroke-linecap="round"/>
<rect x="9" y="23" width="11" height="3" rx="1" fill="#fafafa"/>
<rect x="14" y="5" width="2.4" height="5.5" rx="1.1" fill="#1e73d8"/>
<circle cx="15.4" cy="14" r="1.4" fill="#1e73d8"/>
<path d="M20,14.2 L25.6,12" stroke="#1e73d8" stroke-width="2.4" stroke-linecap="round"/>
<rect x="14.4" y="18.6" width="2" height="1.2" rx="0.5" fill="#1e73d8"/>
<circle cx="12.7" cy="24.8" r="1.4" fill="#1e73d8"/>
<rect x="5.6" y="28.1" width="14" height="2.7" rx="0.6" fill="#1e73d8"/>
<circle cx="28.1" cy="20.6" r="5.9" fill="#f6c84c"/>
<g stroke="#e8605a" stroke-width="1.1" stroke-linecap="round"><line x1="28.1" y1="17.2" x2="28.1" y2="24"/><line x1="24.7" y1="20.6" x2="31.5" y2="20.6"/><line x1="25.7" y1="18.2" x2="30.5" y2="23"/><line x1="30.5" y1="18.2" x2="25.7" y2="23"/></g>
</svg>
<svg class="abs" style="left:592px;top:504px" width="21" height="25" viewBox="0 0 21 25">
<path d="M2,3 Q2,0.3 5,0.3 H16 Q19,0.3 19,3 V8 H21 V14 H19 V17 L10.5,24.8 L2,17 V14 H0 V8 H2 Z" fill="#1f3350"/>
<path d="M3.3,8.6 H17.7 V16.6 L10.5,23 L3.3,16.6 Z" fill="#2f8c3c"/>
<ellipse cx="6.3" cy="10.6" rx="3.6" ry="1.9" fill="#7cc63e"/><ellipse cx="14.7" cy="10.6" rx="3.6" ry="1.9" fill="#7cc63e"/>
<g fill="#efc13f"><path d="M5.3,2.6 l0.75,1.5 1.65,0.25 -1.2,1.15 0.3,1.65 -1.5,-0.8 -1.5,0.8 0.3,-1.65 -1.2,-1.15 1.65,-0.25z"/><path d="M10.5,1.6 l0.75,1.5 1.65,0.25 -1.2,1.15 0.3,1.65 -1.5,-0.8 -1.5,0.8 0.3,-1.65 -1.2,-1.15 1.65,-0.25z"/><path d="M15.7,2.6 l0.75,1.5 1.65,0.25 -1.2,1.15 0.3,1.65 -1.5,-0.8 -1.5,0.8 0.3,-1.65 -1.2,-1.15 1.65,-0.25z"/></g>
<path d="M10.5,12.6 l0.95,1.9 2.1,0.3 -1.5,1.5 0.35,2.1 -1.9,-1 -1.9,1 0.35,-2.1 -1.5,-1.5 2.1,-0.3z" fill="#dcf26c"/>
</svg>
<div id="org">ХАРКІВСЬКА ОБЛАСНА<br>ДЕРЖАВНА АДМІНІСТРАЦІЯ</div>
<svg class="abs" style="left:15.7px;top:496.5px" width="30" height="35" viewBox="0 0 30 35">
<rect x="0.5" y="3.5" width="29" height="30.5" rx="7" fill="#e7c94e"/>
<g fill="#34518a"><ellipse cx="2.5" cy="11" rx="1.6" ry="2.6"/><ellipse cx="2.5" cy="18" rx="1.6" ry="2.6"/><ellipse cx="2.8" cy="25" rx="1.6" ry="2.6"/><ellipse cx="27.5" cy="11" rx="1.6" ry="2.6"/><ellipse cx="27.5" cy="18" rx="1.6" ry="2.6"/><ellipse cx="27.2" cy="25" rx="1.6" ry="2.6"/><ellipse cx="9" cy="31.5" rx="2.6" ry="1.5"/><ellipse cx="15" cy="32.5" rx="2.4" ry="1.5"/><ellipse cx="21" cy="31.5" rx="2.6" ry="1.5"/><ellipse cx="8" cy="5" rx="2.2" ry="1.4"/><ellipse cx="22" cy="5" rx="2.2" ry="1.4"/></g>
<path d="M11,0.5 h8 l1,5 h-10z" fill="#dcdcdc"/><circle cx="15" cy="3" r="1.6" fill="#e7c94e"/>
<path d="M6.3,7 H24.5 V25 Q24.5,28.5 15.4,28.6 Q6.3,28.5 6.3,25 Z" fill="#3c9a42" stroke="#2a6a30" stroke-width="0.6"/>
<circle cx="11.6" cy="14.3" r="2.6" fill="none" stroke="#e6efe6" stroke-width="1"/>
<path d="M10,22.5 Q15,21 18.8,15.5" stroke="#efcf4a" stroke-width="2" fill="none" stroke-linecap="round"/>
<circle cx="18.8" cy="13.6" r="2" fill="#8a3a2a"/>
</svg>
</body></html>
